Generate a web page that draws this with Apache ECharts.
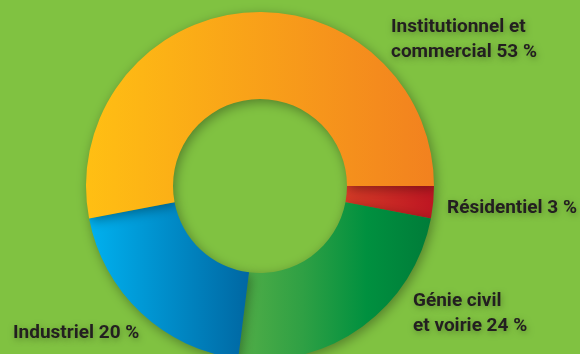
<!DOCTYPE html>
<html>
<head>
<meta charset="utf-8">
<style>
  html, body { margin: 0; padding: 0; background: #80c241; }
  #chart { width: 580px; height: 354px; }
</style>
<script src="https://cdn.jsdelivr.net/npm/echarts@6/dist/echarts.min.js"></script>
</head>
<body>
<div id="chart"></div>
<script>
// Répartition par secteur (%), dans le sens horaire à partir de 3 h
const categories = ['Résidentiel', 'Génie civil\net voirie', 'Industriel', 'Institutionnel et\ncommercial'];
const shares = [3, 24, 20, 53];

// Dégradés gauche -> droite de chaque secteur
const gradients = [
  ['#d63b26', '#bd1522'],
  ['#52ae47', '#2fa044', '#00903f', '#007c39'],
  ['#00b1ef', '#0067a2'],
  ['#ffbf13', '#f2811f']
];

// Emplacements des étiquettes (coin gauche, milieu vertical)
const labelSpots = [
  { x: 447, y: 208 },
  { x: 413, y: 314 },
  { x: 13, y: 333 },
  { x: 391, y: 40 }
];

function grad(stops) {
  const n = stops.length - 1;
  return new echarts.graphic.LinearGradient(0, 0, 1, 0,
    stops.map((c, i) => ({ offset: i / n, color: c })));
}

const chart = echarts.init(document.getElementById('chart'), null, { renderer: 'canvas' });

chart.setOption({
  backgroundColor: '#80c241',
  animation: false,
  series: [{
    type: 'pie',
    center: [260, 186],
    radius: [87, 174],
    startAngle: 0,
    clockwise: true,
    avoidLabelOverlap: false,
    data: categories.map((name, i) => ({
      name: name,
      value: shares[i],
      itemStyle: { color: grad(gradients[i]) }
    })),
    itemStyle: {
      borderWidth: 0,
      shadowBlur: 12,
      shadowColor: 'rgba(0,0,0,0.35)',
      shadowOffsetX: 2,
      shadowOffsetY: 3
    },
    label: {
      show: true,
      formatter: p => p.name + ' ' + p.value + ' %',
      color: '#231f20',
      fontFamily: 'Roboto, "Liberation Sans", sans-serif',
      fontWeight: 'bold',
      fontSize: 19,
      lineHeight: 25,
      textShadowColor: 'rgba(0,0,0,0.3)',
      textShadowBlur: 6,
      textShadowOffsetX: 1,
      textShadowOffsetY: 2
    },
    labelLine: { show: false },
    labelLayout: params => ({
      x: labelSpots[params.dataIndex].x,
      y: labelSpots[params.dataIndex].y,
      align: 'left',
      verticalAlign: 'middle',
      hideOverlap: false
    }),
    emphasis: { disabled: true }
  }]
});
</script>
</body>
</html>
